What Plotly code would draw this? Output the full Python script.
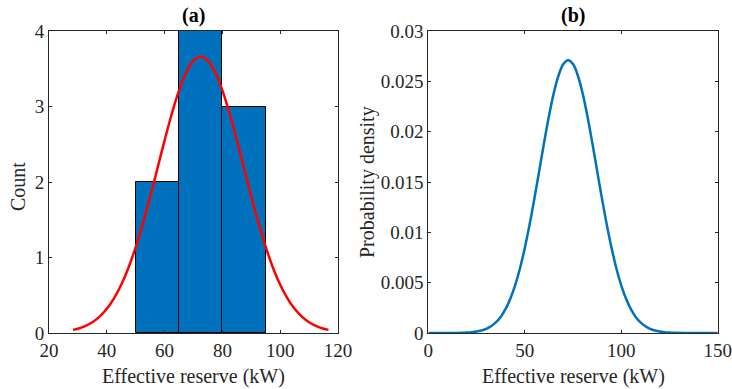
import plotly.graph_objects as go

# Histogram (panel a)
bin_centers = [57.5, 72.5, 87.5]
bin_counts = [2, 4, 3]
bin_width = 15

# Fitted normal curve scaled to counts (panel a)
fit_x = [28.3, 30, 32.5, 35, 37.5, 40, 42.5, 45, 47.5, 50, 52.5, 55, 57.5, 60, 62.5, 65, 67.5, 70,
         72.5, 75, 77.5, 80, 82.5, 85, 87.5, 90, 92.5, 95, 97.5, 100, 102.5, 105, 107.5, 110,
         112.5, 115, 116.7]
fit_y = [0.041, 0.057, 0.091, 0.142, 0.216, 0.320, 0.459, 0.639, 0.865, 1.138, 1.454, 1.805,
         2.176, 2.552, 2.904, 3.213, 3.453, 3.606, 3.659, 3.606, 3.453, 3.213, 2.904, 2.552,
         2.176, 1.805, 1.454, 1.138, 0.865, 0.639, 0.459, 0.320, 0.216, 0.142, 0.091, 0.057, 0.041]

# Probability density (panel b)
pdf_x = [0, 10, 17.5, 20, 22.5, 25, 27.5, 30, 32.5, 35, 37.5, 40, 42.5, 45, 47.5, 50, 52.5, 55,
         57.5, 60, 62.5, 65, 67.5, 70, 72.5, 75, 77.5, 80, 82.5, 85, 87.5, 90, 92.5, 95, 97.5,
         100, 102.5, 105, 107.5, 110, 112.5, 115, 117.5, 120, 122.5, 125, 127.5, 135, 150]
pdf_y = [0.0, 0.0000033, 0.0000252, 0.0000468, 0.0000846, 0.000148, 0.000253, 0.000419,
         0.000675, 0.00105, 0.00160, 0.00237, 0.00340, 0.00473, 0.00641, 0.00843, 0.01077,
         0.01337, 0.01612, 0.01890, 0.02151, 0.02380, 0.02558, 0.02671, 0.02710, 0.02671,
         0.02558, 0.02380, 0.02151, 0.01890, 0.01612, 0.01337, 0.01077, 0.00843, 0.00641,
         0.00473, 0.00340, 0.00237, 0.00160, 0.00105, 0.000675, 0.000419, 0.000253, 0.000148,
         0.0000846, 0.0000468, 0.0000252, 0.0000033, 0.0]

left_xticks = [20, 40, 60, 80, 100, 120]
left_yticks = [0, 1, 2, 3, 4]
right_xticks = [0, 50, 100, 150]
right_yticks = [0, 0.005, 0.01, 0.015, 0.02, 0.025, 0.03]
right_yticklabels = ["0", "0.005", "0.01", "0.015", "0.02", "0.025", "0.03"]

FONT = "Liberation Serif"
AX = "#262626"
BLUE = "#0072BD"

fig = go.Figure()
fig.add_trace(go.Bar(x=bin_centers, y=bin_counts, width=[bin_width] * 3,
                     marker=dict(color=BLUE, line=dict(color="black", width=1)),
                     xaxis="x", yaxis="y", showlegend=False))
fig.add_trace(go.Scatter(x=fit_x, y=fit_y, mode="lines", line=dict(color="#FF0000", width=2.5, shape="spline"),
                         xaxis="x", yaxis="y", showlegend=False))
fig.add_trace(go.Scatter(x=pdf_x, y=pdf_y, mode="lines", line=dict(color=BLUE, width=2.5, shape="spline"),
                         xaxis="x2", yaxis="y2", showlegend=False))

W, H = 732, 389

def px(X):
    return X / W

def py(Y):
    return 1 - Y / H

common = dict(showgrid=False, zeroline=False, showline=True, linecolor=AX, linewidth=1,
              mirror="ticks", ticks="inside", ticklen=3, tickcolor=AX, automargin=False,
              ticklabeloverflow="allow",
              tickfont=dict(family=FONT, size=19, color=AX))

fig.update_layout(
    width=W, height=H, margin=dict(l=0, r=0, t=0, b=0, autoexpand=False),
    paper_bgcolor="white", plot_bgcolor="white", bargap=0,
    font=dict(family=FONT, size=20, color=AX),
    xaxis=dict(domain=[px(49), px(338)], range=[20, 120], tickvals=left_xticks, anchor="y", **common),
    yaxis=dict(domain=[py(333), py(31)], range=[0, 4], tickvals=left_yticks, anchor="x", **common),
    xaxis2=dict(domain=[px(428.3), px(717.7)], range=[0, 150], tickvals=right_xticks, anchor="y2", **common),
    yaxis2=dict(domain=[py(333), py(31)], range=[0, 0.03], tickvals=right_yticks, ticktext=right_yticklabels,
                anchor="x2", **common),
)

ann_font = dict(family=FONT, size=20, color=AX)
def ann(text, X, Y, **kw):
    fig.add_annotation(text=text, x=px(X), y=py(Y), xref="paper", yref="paper",
                       showarrow=False, xanchor="center", yanchor="middle", **kw)

ann("<b>(a)</b>", (49 + 338) / 2, 15, font=dict(family=FONT, size=20, color="black"))
ann("<b>(b)</b>", (428.3 + 717.7) / 2, 15, font=dict(family=FONT, size=20, color="black"))
ann("Effective reserve (kW)", (49 + 338) / 2, 376, font=ann_font)
ann("Effective reserve (kW)", (428.3 + 717.7) / 2, 376, font=ann_font)
ann("Count", 18, 187, font=ann_font, textangle=-90)
ann("Probability density", 368, 182, font=ann_font, textangle=-90)

fig.write_html("out.html", config={"displayModeBar": False},
               post_script="document.body.style.margin='0';document.body.style.overflow='hidden';")
